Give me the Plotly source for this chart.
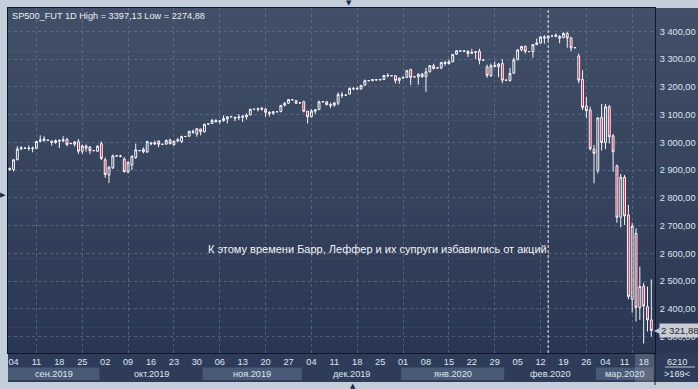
import plotly.graph_objects as go

# ---------------- data ----------------
opens = [2905, 2902, 2938, 2976, 2979, 2979, 2977, 2978, 3004, 3007,
         3008, 3004, 2999, 3004, 3005, 3010, 2995, 2993, 3002, 2968,
         2987, 2983, 2970, 2968, 2995, 2937, 2882, 2908, 2951, 2951,
         2940, 2893, 2918, 2945, 2970, 2975, 2965, 2998, 2994, 3004,
         2993, 2994, 3008, 2992, 3005, 3003, 3021, 3022, 3039, 3030,
         3048, 3038, 3066, 3068, 3079, 3075, 3078, 3084, 3092, 3090,
         3088, 3090, 3092, 3099, 3119, 3119, 3122, 3119, 3108, 3105,
         3110, 3111, 3134, 3141, 3154, 3150, 3142, 3146, 3112, 3092,
         3112, 3118, 3146, 3146, 3136, 3134, 3141, 3171, 3170, 3174,
         3194, 3193, 3192, 3206, 3222, 3222, 3226, 3225, 3226, 3241,
         3240, 3240, 3223, 3231, 3234, 3262, 3236, 3236, 3246, 3237,
         3254, 3276, 3268, 3268, 3288, 3284, 3290, 3318, 3329, 3329,
         3328, 3321, 3324, 3328, 3296, 3272, 3240, 3277, 3272, 3284,
         3224, 3223, 3249, 3298, 3334, 3346, 3327, 3326, 3352, 3358,
         3380, 3376, 3383, 3382, 3375, 3378, 3392, 3376, 3341, 3311,
         3227, 3131, 3116, 2975, 2898, 3090, 2999, 3128, 3023, 2915,
         2730, 2874, 2738, 2434, 2672, 2405, 2482, 2408, 2360]
highs = [2909, 2940, 2986, 2986, 2980, 2988, 2985, 3005, 3025, 3022,
         3009, 3007, 3010, 3010, 3022, 3016, 2997, 3005, 3012, 2992,
         2992, 2986, 2971, 2990, 3003, 2945, 2915, 2956, 2952, 2955,
         2946, 2932, 2953, 2995, 2971, 2982, 3005, 3002, 3006, 3008,
         2994, 3010, 3013, 3006, 3016, 3024, 3022, 3042, 3046, 3050,
         3049, 3067, 3067, 3084, 3083, 3080, 3097, 3094, 3093, 3092,
         3102, 3097, 3104, 3121, 3120, 3125, 3128, 3124, 3112, 3113,
         3111, 3134, 3145, 3156, 3156, 3152, 3143, 3150, 3113, 3120,
         3120, 3150, 3147, 3149, 3143, 3145, 3180, 3182, 3171, 3198,
         3199, 3199, 3206, 3226, 3223, 3228, 3228, 3227, 3242, 3249,
         3241, 3242, 3233, 3236, 3261, 3265, 3237, 3248, 3250, 3268,
         3278, 3283, 3269, 3289, 3294, 3298, 3318, 3332, 3330, 3333,
         3332, 3337, 3328, 3337, 3297, 3280, 3284, 3291, 3286, 3299,
         3225, 3268, 3305, 3336, 3348, 3349, 3328, 3353, 3374, 3383,
         3386, 3384, 3384, 3392, 3386, 3397, 3397.13, 3380, 3342, 3320,
         3260, 3164, 3128, 2990, 3090, 3138, 3138, 3135, 3030, 2920,
         2886, 2882, 2774, 2710, 2690, 2552, 2494, 2480, 2506]
lows = [2898, 2895, 2934, 2972, 2978, 2970, 2964, 2975, 3000, 3002,
        3006, 2988, 2995, 2980, 3001, 2986, 2994, 2985, 2958, 2958,
        2966, 2958, 2969, 2965, 2936, 2872, 2853, 2904, 2950, 2946,
        2892, 2888, 2900, 2940, 2969, 2960, 2962, 2989, 2990, 2982,
        2992, 2990, 2993, 2987, 3001, 2998, 3020, 3020, 3031, 3020,
        3025, 3035, 3065, 3066, 3070, 3066, 3074, 3068, 3091, 3076,
        3080, 3073, 3082, 3097, 3118, 3111, 3114, 3092, 3093, 3099,
        3109, 3108, 3129, 3139, 3151, 3138, 3141, 3108, 3068, 3090,
        3103, 3116, 3145, 3133, 3123, 3128, 3134, 3160, 3169, 3172,
        3188, 3189, 3190, 3204, 3221, 3220, 3222, 3224, 3225, 3234,
        3239, 3212, 3211, 3230, 3231, 3207, 3235, 3208, 3232, 3182,
        3252, 3262, 3267, 3264, 3276, 3280, 3289, 3315, 3328, 3325,
        3307, 3318, 3300, 3281, 3295, 3232, 3236, 3270, 3235, 3213,
        3223, 3218, 3247, 3295, 3328, 3320, 3326, 3305, 3350, 3356,
        3355, 3368, 3382, 3378, 3357, 3375, 3341, 3328, 3340, 3213,
        3116, 3088, 2970, 2852, 2888, 2970, 2975, 2996, 2894, 2710,
        2694, 2702, 2434, 2386, 2354, 2360, 2274.88, 2318, 2300]
closes = [2903, 2937, 2976, 2980, 2979, 2978, 2979, 3003, 3008, 3012,
          3007, 2999, 3006, 3007, 3009, 2992, 2996, 3001, 2968, 2987,
          2979, 2970, 2970, 2986, 2942, 2884, 2910, 2951, 2951, 2949,
          2894, 2928, 2950, 2973, 2970, 2966, 3003, 2995, 2998, 2993,
          2993, 3007, 2995, 3004, 3009, 3021, 3021, 3039, 3036, 3049,
          3038, 3065, 3066, 3079, 3075, 3077, 3086, 3092, 3092, 3087,
          3091, 3094, 3098, 3119, 3119, 3121, 3120, 3108, 3104, 3110,
          3110, 3133, 3141, 3154, 3153, 3141, 3142, 3112, 3092, 3113,
          3117, 3146, 3146, 3136, 3133, 3142, 3172, 3170, 3170, 3194,
          3193, 3192, 3205, 3222, 3222, 3226, 3225, 3226, 3241, 3240,
          3240, 3223, 3231, 3234, 3258, 3234, 3236, 3245, 3237, 3254,
          3276, 3266, 3268, 3288, 3284, 3290, 3317, 3330, 3329, 3328,
          3320, 3324, 3326, 3296, 3296, 3241, 3276, 3274, 3282, 3224,
          3224, 3248, 3297, 3333, 3345, 3328, 3327, 3352, 3358, 3380,
          3376, 3382, 3383, 3386, 3381, 3392, 3376, 3340, 3341, 3224,
          3126, 3114, 2977, 2960, 3088, 2999, 3128, 3020, 2966, 2730,
          2874, 2735, 2444, 2698, 2405, 2480, 2410, 2360, 2321.88]

day_tick_idx = [1, 7, 13, 19, 25, 31, 37, 43, 49, 55, 61, 67, 73, 79, 85,
                91, 97, 103, 109, 115, 121, 127, 133, 139, 145, 151, 156, 161, 166]
day_tick_txt = ["04", "11", "18", "25", "02", "09", "16", "23", "30", "06", "13",
                "20", "27", "04", "11", "18", "25", "01", "08", "15", "22", "29",
                "05", "12", "19", "26", "04", "11", "18"]
grid_idx = [7, 19, 31, 43, 55, 67, 79, 91, 103, 115, 127, 139, 151, 163]
month_names = ["сен.2019", "окт.2019", "ноя.2019", "дек.2019", "янв.2020", "фев.2020", "мар.2020"]
month_start = [0, 24, 51, 77, 103, 130, 154]
price_ticks = [2300, 2400, 2500, 2600, 2700, 2800, 2900, 3000, 3100, 3200, 3300, 3400]
event_idx = 141
event_price = 2615
event_text = "К этому времени Барр, Леффер и их супруги избавились от акций"
symbol = "SP500_FUT 1D"
bars_total = "6210"
cursor_idx = 166

# ---------------- geometry / style ----------------
W, H = 698, 389
ML, MR, MT, MB = 8, 43, 8, 36
PW, PH = W - ML - MR, H - MT - MB
X_RANGE = [-0.445, 168.97]
Y_RANGE = [2240.7, 3484.0]
FONT = "Liberation Sans, Arial, sans-serif"
FS = 9.2
LBL = "#dde6f2"
GRID = "rgba(110,128,160,0.55)"
FRAME = "#c4ceda"
AXLINE = "#0f1625"


def px(xp):
    return (xp - ML) / PW


def py(yp):
    return (H - MB - yp) / PH


def fmt_price(v):
    return f"{v:,.2f}".replace(",", " ").replace(".", ",")


n = len(closes)
xs = list(range(n))

fig = go.Figure()
fig.add_trace(go.Candlestick(
    x=xs, open=opens, high=highs, low=lows, close=closes,
    increasing=dict(line=dict(color="#f5f7fb", width=1), fillcolor="rgba(0,0,0,0)"),
    decreasing=dict(line=dict(color="#f5f7fb", width=1), fillcolor="#e2173f"),
    whiskerwidth=0, hoverinfo="skip", showlegend=False))

shapes = []
# vertical gradient background (plot area + right price strip)
top_c = (66, 79, 104)
bot_c = (42, 55, 82)
NB = 40
for k in range(NB):
    t = (k + 0.5) / NB
    c = tuple(round(top_c[j] + (bot_c[j] - top_c[j]) * t) for j in range(3))
    shapes.append(dict(type="rect", xref="paper", yref="paper", layer="below",
                       x0=0, x1=px(W + 2), y0=1 - (k + 1) / NB - 0.002, y1=1 - k / NB,
                       fillcolor=f"rgb{c}", line=dict(width=0)))
# bottom time strip
shapes.append(dict(type="rect", xref="paper", yref="paper", layer="below",
                   x0=0, x1=px(W + 2), y0=py(382), y1=0,
                   fillcolor="#2f3c59", line=dict(width=0)))
# month bands
ends = month_start[1:] + [n]
for k, (s, e) in enumerate(zip(month_start, ends)):
    if k % 2 == 0:
        shapes.append(dict(type="rect", xref="x", yref="paper", layer="below",
                           x0=s - 0.5, x1=e - 0.5, y0=py(380), y1=py(367.5),
                           fillcolor="#4a5975", line=dict(width=0)))
# cursor highlight in the time strip
shapes.append(dict(type="rect", xref="x", yref="paper", layer="below",
                   x0=cursor_idx - 2.3, x1=X_RANGE[1], y0=py(382), y1=0,
                   fillcolor="rgba(120,128,142,0.45)", line=dict(width=0)))
# right axis line continues through the time strip
shapes.append(dict(type="line", xref="paper", yref="paper", layer="above",
                   x0=1, x1=1, y0=py(385), y1=0, line=dict(color=AXLINE, width=1)))
# separator in bottom-right box
shapes.append(dict(type="line", xref="paper", yref="paper", layer="above",
                   x0=px(665), x1=px(695), y0=py(367), y1=py(367),
                   line=dict(color="#b9c3d2", width=1)))
# event marker line
shapes.append(dict(type="line", xref="x", yref="paper", layer="above",
                   x0=event_idx, x1=event_idx, y0=0, y1=1,
                   line=dict(color="#f0f0f0", width=1, dash="3px,2px")))

annotations = []
annotations.append(dict(
    xref="paper", yref="paper", x=px(10), y=py(8.5), xanchor="left", yanchor="top",
    text=f"{symbol} High = {max(highs):.2f} Low = {min(lows):.2f}".replace(".", ","),
    showarrow=False, font=dict(family=FONT, size=FS, color="#e9eef6")))
annotations.append(dict(
    xref="x", yref="y", x=event_idx, y=event_price, xanchor="right", yanchor="middle",
    text=event_text, showarrow=False, xshift=1,
    font=dict(family=FONT, size=11, color="#f2f4f8")))
# last price marker: pointer + box
annotations.append(dict(
    xref="paper", yref="y", x=px(657), y=closes[-1], xanchor="center", yanchor="middle",
    text="◀", showarrow=False,
    font=dict(family="DejaVu Sans", size=8, color="#c9cdd3")))
annotations.append(dict(
    xref="paper", yref="y", x=px(659), y=closes[-1], xanchor="left", yanchor="middle",
    text=fmt_price(closes[-1]), showarrow=False, bgcolor="#c9cdd3", borderpad=1,
    font=dict(family=FONT, size=FS + 0.5, color="#1c2436")))
for k, (s, e) in enumerate(zip(month_start, ends)):
    annotations.append(dict(
        xref="x", yref="paper", x=(s + e - 1) / 2, y=py(374), xanchor="center",
        yanchor="middle", text=month_names[k], showarrow=False,
        font=dict(family=FONT, size=FS, color=LBL)))
annotations.append(dict(
    xref="paper", yref="paper", x=px(677), y=py(361.5), xanchor="center", yanchor="middle",
    text=bars_total, showarrow=False, font=dict(family=FONT, size=FS, color=LBL)))
annotations.append(dict(
    xref="paper", yref="paper", x=px(677), y=py(373.5), xanchor="center", yanchor="middle",
    text=f"&gt;{n}&lt;", showarrow=False, font=dict(family=FONT, size=FS, color=LBL)))
# window scroll arrows
for (ax_, ay_, ch) in [(349, 3, "▼"), (3, 195, "▶"), (353, 386, "▲")]:
    annotations.append(dict(
        xref="paper", yref="paper", x=px(ax_), y=py(ay_), xanchor="center",
        yanchor="middle", text=ch, showarrow=False,
        font=dict(family="DejaVu Sans", size=7, color="#1d2940")))

fig.update_layout(
    width=W, height=H, margin=dict(l=ML, r=MR, t=MT, b=MB, pad=0, autoexpand=False),
    paper_bgcolor=FRAME, plot_bgcolor="rgba(0,0,0,0)",
    separators=", ", showlegend=False, hovermode=False, dragmode=False,
    shapes=shapes, annotations=annotations,
    xaxis=dict(range=X_RANGE, tickmode="array", tickvals=day_tick_idx, ticktext=day_tick_txt,
               showgrid=False, ticks="", zeroline=False, automargin=False,
               minor=dict(tickmode="array", tickvals=grid_idx, showgrid=True,
                          gridcolor=GRID, griddash="3px,3px", gridwidth=1, ticks=""),
               showline=True, linecolor=AXLINE, linewidth=1, mirror=True,
               tickfont=dict(family=FONT, size=FS, color=LBL),
               rangeslider=dict(visible=False), fixedrange=True),
    yaxis=dict(side="right", range=Y_RANGE, tickmode="array", tickvals=price_ticks,
               tickformat=",.2f", showgrid=True, gridcolor=GRID, griddash="3px,3px",
               gridwidth=1, zeroline=False, ticks="", showline=True, linecolor=AXLINE,
               linewidth=1, mirror=True, ticklabelstandoff=2, automargin=False,
               tickfont=dict(family=FONT, size=FS, color=LBL), fixedrange=True),
)

fig.write_html("out.html")
